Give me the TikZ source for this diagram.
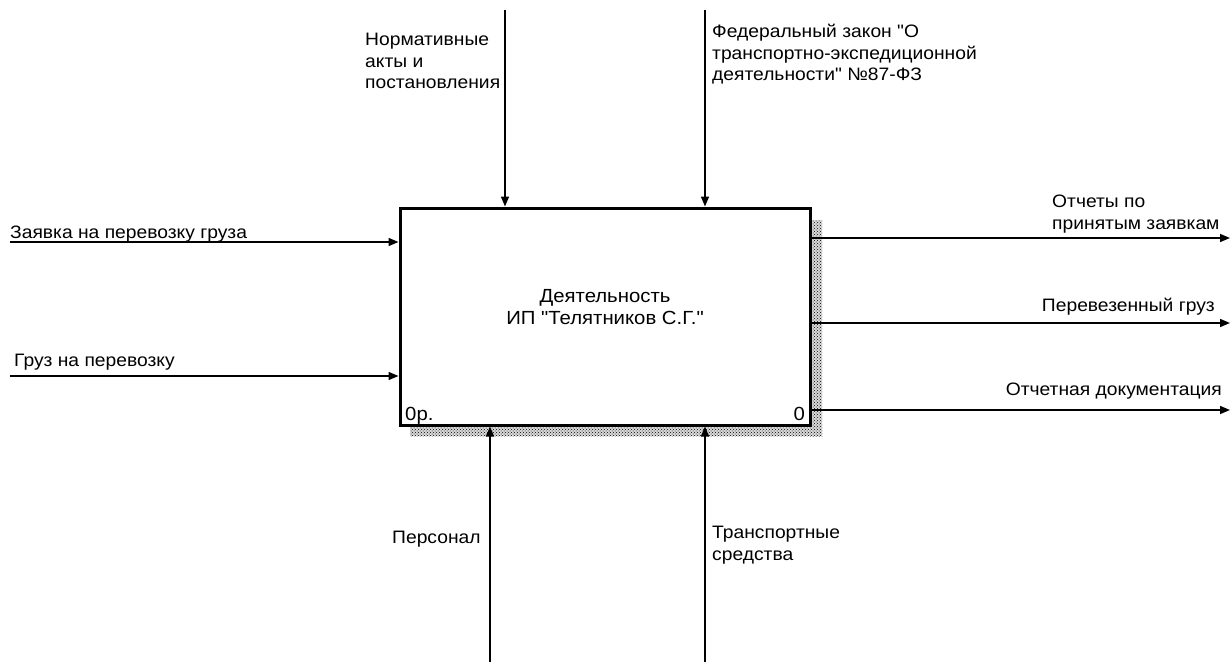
\documentclass[tikz,border=0pt]{standalone}
\usepackage{fontspec}
\setmainfont{Liberation Sans}
\newfontfamily\lbfont{Liberation Sans}[FakeStretch=1.07]
\usetikzlibrary{arrows.meta,patterns}
\begin{document}
\begin{tikzpicture}[x=1pt,y=-1pt,
  lbl/.style={inner sep=0pt,font=\lbfont\fontsize{18}{21.5}\selectfont,align=left},
  conn/.style={line width=1.6pt,-{Triangle[length=10pt,width=8pt]}},
  shade/.style={fill=gray!30,postaction={pattern=crosshatch dots}}]
\useasboundingbox (0,0) rectangle (1232,662);
% shadow
\fill[shade] (810,220) rectangle (822,436);
\fill[shade] (410,425) rectangle (822,436);
% box
\node[draw,line width=3pt,fill=white,minimum width=410pt,minimum height=217pt,inner sep=0pt] (box) at (605,316.5) {};
\node[inner sep=0pt,font=\lbfont\fontsize{19}{22}\selectfont,align=center] (act) at (605,307) {Деятельность\\ИП "Телятников С.Г."};
\node[inner sep=0pt,anchor=base west,font=\lbfont\fontsize{19}{20}\selectfont] (num) at (405,420) {0р.};
\node[inner sep=0pt,anchor=base east,font=\lbfont\fontsize{19}{20}\selectfont] (num2) at (805,420) {0};
% coordinates
\coordinate (c1) at (505,10);
\coordinate (c2) at (705,10);
\coordinate (i1) at (10,242);
\coordinate (i2) at (10,376);
\coordinate (o1) at (1230,238);
\coordinate (o2) at (1230,323);
\coordinate (o3) at (1230,410);
\coordinate (m1) at (490,662);
\coordinate (m2) at (705,662);
% arrows
\draw[conn] (c1) -- (c1 |- box.north);
\draw[conn] (c2) -- (c2 |- box.north);
\draw[conn] (i1) -- (box.west |- i1);
\draw[conn] (i2) -- (box.west |- i2);
\draw[conn] (box.east |- o1) -- (o1);
\draw[conn] (box.east |- o2) -- (o2);
\draw[conn] (box.east |- o3) -- (o3);
\draw[conn] (m1) -- (m1 |- box.south);
\draw[conn] (m2) -- (m2 |- box.south);
% labels
\node[lbl,anchor=north west] (lnorm) at (365,33) {Нормативные\\акты и\\постановления};
\node[lbl,anchor=north west] (lfed) at (712,24) {Федеральный закон "О\\транспортно-экспедиционной\\деятельности" №87-ФЗ};
\node[lbl,anchor=base west] (lin1) at (10,238) {Заявка на перевозку груза};
\node[lbl,anchor=base west] (lin2) at (14,366) {Груз на перевозку};
\node[lbl,anchor=north west] (lout1) at (1052,195) {Отчеты по\\принятым заявкам};
\node[lbl,anchor=base east] (lout2) at (1215,311) {Перевезенный груз};
\node[lbl,anchor=base east] (lout3) at (1222,395) {Отчетная документация};
\node[lbl,anchor=base west] (lm1) at (392,543) {Персонал};
\node[lbl,anchor=north west] (lm2) at (712,526) {Транспортные\\средства};
\end{tikzpicture}
\end{document}
